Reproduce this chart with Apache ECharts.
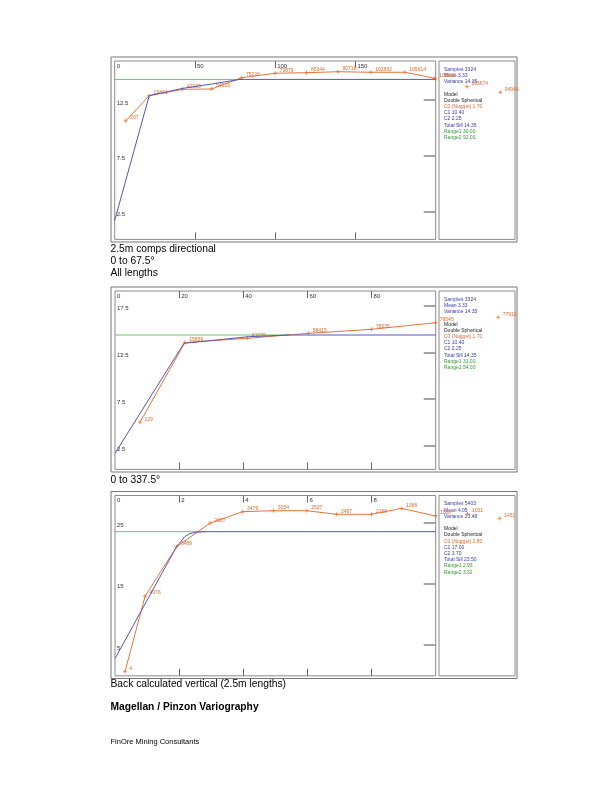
<!DOCTYPE html>
<html><head><meta charset="utf-8">
<script src="https://cdn.jsdelivr.net/npm/echarts@6/dist/echarts.min.js"></script>
<style>html,body{margin:0;padding:0;background:#fff}#c{width:612px;height:792px}</style>
</head><body><div id="c"></div>
<script>
// ---------- Panel 1: 2.5m comps directional, 0 to 67.5 ----------
const lag1 = [6.85, 21.5, 42.3, 60.4, 79.1, 100, 119.5, 139.2, 159.6, 180.8, 199.4, 219.5, 240.3, 250.3];
const gam1 = [10.63, 12.89, 13.46, 13.49, 14.5, 14.9, 14.95, 15.04, 14.99, 14.99, 14.45, 13.7, 13.19, 12.65];
const pairs1 = ['207', '16841', '42195', '54025', '75226', '79879', '85344', '90718', '102832', '105614', '105606', '105674', '94946', ''];
const modelLag1 = [0, 21.5, 42.5, 61, 78, 200];
const modelGam1 = [1.7, 12.89, 13.55, 13.95, 14.35, 14.35];
const sill1 = 14.35, sillEnd1 = 80;
const xMax1 = 200, yMax1 = 16;
const xTicks1 = [0, 50, 100, 150];
const yTicks1 = [2.5, 7.5, 12.5];
const stats1 = ['Samples 3324', 'Mean 3.33', 'Variance 14.35', '', 'Model', 'Double Spherical', 'C0 (Nugget) 1.70', 'C1 10.40', 'C2 2.25', 'Total Sill 14.35', 'Range1 30.00', 'Range2 92.00'];

// ---------- Panel 2: 0 to 337.5 ----------
const lag2 = [7.8, 21.8, 41.3, 60.3, 80, 99.9, 119.5, 125.3];
const gam2 = [5.03, 13.55, 14.0, 14.53, 14.96, 15.66, 16.24, 16.1];
const pairs2 = ['129', '15886', '41076', '58415', '78235', '79545', '77912', ''];
const modelLag2 = [0, 21.5, 41.6, 54, 100];
const modelGam2 = [1.72, 13.46, 14.17, 14.35, 14.35];
const sill2 = 14.35, sillEnd2 = 54.5;
const xMax2 = 100, yMax2 = 19.05;
const xTicks2 = [0, 20, 40, 60, 80];
const yTicks2 = [2.5, 7.5, 12.5, 17.5];
const stats2 = ['Samples 3324', 'Mean 3.33', 'Variance 14.35', '', 'Model', 'Double Spherical', 'C0 (Nugget) 1.70', 'C1 10.40', 'C2 2.25', 'Total Sill 14.35', 'Range1 31.00', 'Range2 54.00'];

// ---------- Panel 3: Back calculated vertical ----------
const lag3 = [0.31, 0.94, 1.92, 2.96, 3.98, 4.94, 5.98, 6.91, 8.0, 8.94, 10.0, 10.99, 12.0, 12.53];
const gam3 = [0.67, 13.0, 21.05, 24.87, 26.76, 26.92, 26.92, 26.34, 26.34, 27.3, 26.06, 26.39, 25.68, 24.87];
const pairs3 = ['4', '4976', '6489', '2807', '3479', '3054', '2537', '2487', '2168', '1066', '1180', '1001', '1451', ''];
const modelLag3 = [0, 1.92, 2.18, 2.34, 2.57, 2.86, 10];
const modelGam3 = [2.8, 21.05, 22.7, 23.2, 23.45, 23.5, 23.5];
const sill3 = 23.5, sillEnd3 = 2.86;
const xMax3 = 10, yMax3 = 29.4;
const xTicks3 = [0, 2, 4, 6, 8];
const yTicks3 = [5, 15, 25];
const stats3 = ['Samples 5403', 'Mean 4.05', 'Variance 23.48', '', 'Model', 'Double Spherical', 'C0 (Nugget) 2.80', 'C1 17.00', 'C2 3.70', 'Total Sill 23.50', 'Range1 2.93', 'Range2 3.32'];

// ---------- text ----------
const caption1 = ['2.5m comps directional', '0 to 67.5°', 'All lengths'];
const caption2 = ['0 to 337.5°'];
const caption3 = ['Back calculated vertical (2.5m lengths)'];
const title = 'Magellan / Pinzon Variography';
const footer = 'FinOre Mining Consultants';

const FONT = 'Liberation Sans';
const ORANGE = '#e8733a', BLUE = '#5656b8', GREEN = '#6cc46c';
const TXT_BLUE = '#3a3aa8', TXT_ORANGE = '#e06a2a', TXT_GREEN = '#2f9a2f', TXT_BLACK = '#222';

const panels = [
  {lag: lag1, gam: gam1, pairs: pairs1, mLag: modelLag1, mGam: modelGam1, sill: sill1, sillEnd: sillEnd1, xMax: xMax1, yMax: yMax1, xTicks: xTicks1, yTicks: yTicks1, stats: stats1,
   grid: {left: 114.7, top: 61, width: 321, height: 178.4}, outer: {x: 111, y: 57, width: 406, height: 185}},
  {lag: lag2, gam: gam2, pairs: pairs2, mLag: modelLag2, mGam: modelGam2, sill: sill2, sillEnd: sillEnd2, xMax: xMax2, yMax: yMax2, xTicks: xTicks2, yTicks: yTicks2, stats: stats2,
   grid: {left: 115, top: 291, width: 320.7, height: 178.4}, outer: {x: 111, y: 287, width: 406, height: 185}},
  {lag: lag3, gam: gam3, pairs: pairs3, mLag: modelLag3, mGam: modelGam3, sill: sill3, sillEnd: sillEnd3, xMax: xMax3, yMax: yMax3, xTicks: xTicks3, yTicks: yTicks3, stats: stats3,
   grid: {left: 115, top: 495.5, width: 320.7, height: 180.3}, outer: {x: 111, y: 491.5, width: 406, height: 187}}
];

const statColor = [TXT_BLUE, TXT_BLUE, TXT_BLUE, TXT_BLACK, TXT_BLACK, TXT_BLACK, TXT_ORANGE, TXT_BLUE, TXT_BLUE, TXT_BLUE, TXT_GREEN, TXT_GREEN];

const grids = [], xAxes = [], yAxes = [], series = [], graphics = [];
panels.forEach((p, i) => {
  grids.push(Object.assign({show: true, borderColor: '#8a8a8a', borderWidth: 1, backgroundColor: 'transparent'}, p.grid));
  const tickInner = p.xTicks.filter(v => v > 0);
  const noLine = {show: false, onZero: false};
  xAxes.push({gridIndex: i, type: 'value', position: 'top', min: 0, max: p.xMax,
    axisLine: noLine, splitLine: {show: false},
    axisTick: {show: true, inside: true, length: 7, customValues: tickInner, lineStyle: {color: '#666', width: 1}},
    axisLabel: {show: true, inside: true, customValues: p.xTicks, align: 'left', verticalAlign: 'top', margin: 2, padding: [0, 0, 0, 2], fontSize: 6, color: '#333', fontFamily: FONT}});
  xAxes.push({gridIndex: i, type: 'value', position: 'bottom', min: 0, max: p.xMax,
    axisLine: noLine, splitLine: {show: false},
    axisTick: {show: true, inside: true, length: 7, customValues: tickInner, lineStyle: {color: '#666', width: 1}},
    axisLabel: {show: false}});
  yAxes.push({gridIndex: i, type: 'value', position: 'left', min: 0, max: p.yMax,
    axisLine: noLine, splitLine: {show: false}, axisTick: {show: false},
    axisLabel: {show: true, inside: true, customValues: p.yTicks, align: 'left', verticalAlign: 'top', margin: 2, fontSize: 6, color: '#333', fontFamily: FONT}});
  yAxes.push({gridIndex: i, type: 'value', position: 'right', min: 0, max: p.yMax,
    axisLine: noLine, splitLine: {show: false},
    axisTick: {show: true, inside: true, length: 12, customValues: p.yTicks, lineStyle: {color: '#888', width: 1.5}},
    axisLabel: {show: false}});

  const xi = i * 2, yi = i * 2;
  series.push({type: 'line', xAxisIndex: xi, yAxisIndex: yi, symbol: 'none', silent: true,
    lineStyle: {color: GREEN, width: 1}, data: [[0, p.sill], [p.sillEnd, p.sill]], z: 2});
  const pairs = p.pairs;
  const odata = p.lag.map((x, k) => pairs[k] === '' ? {value: [x, p.gam[k]], symbol: 'none', label: {show: false}} : [x, p.gam[k]]);
  series.push({type: 'line', xAxisIndex: xi, yAxisIndex: yi, clip: false, silent: true,
    symbol: 'path://M5,0L5,10M0,5L10,5', symbolSize: 4,
    itemStyle: {color: ORANGE, borderColor: ORANGE, borderWidth: 0.8},
    lineStyle: {color: ORANGE, width: 1},
    label: {show: true, position: 'right', distance: 2, offset: [0, -3], fontSize: 5, color: TXT_ORANGE, fontFamily: FONT,
      formatter: (q) => pairs[q.dataIndex]},
    data: odata, z: 3});
  series.push({type: 'line', xAxisIndex: xi, yAxisIndex: yi, symbol: 'none', silent: true,
    lineStyle: {color: BLUE, width: 1}, data: p.mLag.map((x, k) => [x, p.mGam[k]]), z: 4});

  graphics.push({type: 'rect', shape: p.outer, style: {fill: 'none', stroke: '#777', lineWidth: 1}, silent: true});
  graphics.push({type: 'rect', shape: {x: 439, y: p.grid.top, width: 76, height: p.grid.height}, style: {fill: 'none', stroke: '#8a8a8a', lineWidth: 1}, silent: true});
  p.stats.forEach((t, k) => {
    if (!t) return;
    graphics.push({type: 'text', x: 444, y: p.grid.top + 8.5 + k * 6.2, silent: true,
      style: {text: t, fill: statColor[k], font: '5px "' + FONT + '"', textVerticalAlign: 'middle'}});
  });
});

function addLines(lines, y0, step, font) {
  lines.forEach((t, k) => graphics.push({type: 'text', x: 110.5, y: y0 + k * step, silent: true,
    style: {text: t, fill: '#000', font: font, textVerticalAlign: 'middle'}}));
}
addLines(caption1, 249.5, 11.7, '10.25px "' + FONT + '"');
addLines(caption2, 480, 11.7, '10.25px "' + FONT + '"');
addLines(caption3, 684.5, 11.7, '10.25px "' + FONT + '"');
addLines([title], 707.5, 11.7, 'bold 10.25px "' + FONT + '"');
addLines([footer], 742, 11.7, '7.5px "' + FONT + '"');

const chart = echarts.init(document.getElementById('c'), null, {renderer: 'canvas'});
chart.setOption({
  animation: false,
  backgroundColor: '#fff',
  textStyle: {fontFamily: FONT},
  grid: grids, xAxis: xAxes, yAxis: yAxes, series: series, graphic: graphics
});
</script></body></html>
